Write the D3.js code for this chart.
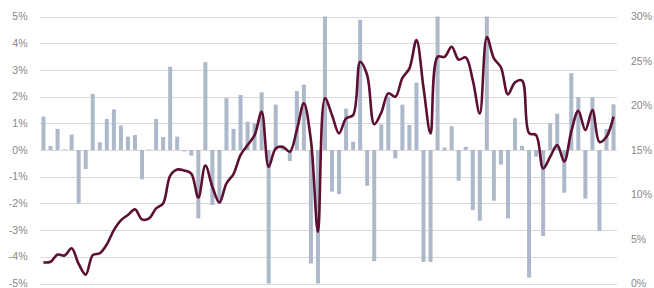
<!DOCTYPE html>
<html><head><meta charset="utf-8">
<script src="https://cdn.jsdelivr.net/npm/d3@7"></script>
<style>body{margin:0;background:#fff;}svg{display:block;}</style>
</head><body>
<svg id="c" width="654" height="288"></svg>
<script>
const periods = d3.range(1, 83);
const barValues = [1.25,0.15,0.79,0.02,0.58,-2.0,-0.71,2.1,0.29,1.16,1.52,0.92,0.5,0.56,-1.1,0.02,1.16,0.49,3.12,0.5,-0.05,-0.21,-2.56,3.29,-2.06,-2.0,1.94,0.79,2.06,1.06,1.0,2.16,-5.3,1.7,0.1,-0.41,2.21,2.45,-4.25,-5.3,5.3,-1.56,-1.65,1.55,0.31,4.88,-1.34,-4.16,0.96,2.0,-0.31,1.7,0.94,2.52,-4.19,-4.19,5.3,0.09,0.89,-1.15,0.12,-2.25,-2.65,5.3,-1.9,-0.55,-2.56,1.19,0.16,-4.78,-0.25,-3.22,1.0,1.36,-1.6,2.88,1.98,-1.82,1.98,-3.04,0.79,1.71];
const lineValues = [2.37,2.44,3.25,3.15,3.95,2.2,1.0,3.19,3.4,4.4,6.0,7.1,7.7,8.33,7.2,7.31,8.44,9.0,12.1,12.8,12.7,12.35,9.65,13.25,10.87,9.1,11.25,12.3,14.43,15.55,16.67,19.3,13.1,15.18,15.36,14.8,17.24,20.24,16.1,5.81,20.8,18.92,16.87,18.55,18.92,24.9,23.4,17.9,19.2,21.36,20.98,23.1,24.17,27.35,22.0,16.87,25.47,25.47,26.6,25.15,25.4,22.85,19.1,27.7,25.3,24.3,21.25,22.6,22.8,16.9,16.67,12.93,14.24,15.55,13.7,17.1,19.4,17.24,19.5,15.9,16.5,18.75];
const leftTicks = [-5,-4,-3,-2,-1,0,1,2,3,4,5];
const rightTicks = [0,5,10,15,20,25,30];

const svg = d3.select("#c");
const L = 40, R = 617, T = 16.5, B = 283.5;
const x = d3.scaleBand().domain(periods).range([L, R]).paddingInner(0.43).paddingOuter(0.21);
const yL = d3.scaleLinear().domain([-5, 5]).range([B, T]);
const yR = d3.scaleLinear().domain([0, 30]).range([B, T]);

svg.append("defs").append("clipPath").attr("id","clip")
  .append("rect").attr("x", L).attr("y", T).attr("width", R - L).attr("height", B - T);

// gridlines
svg.append("g").selectAll("line").data(leftTicks).join("line")
  .attr("x1", L).attr("x2", R)
  .attr("y1", d => Math.round(yL(d)) + 0.5).attr("y2", d => Math.round(yL(d)) + 0.5)
  .attr("stroke", "#d9d9d9").attr("stroke-width", 1);

// bars
svg.append("g").attr("clip-path","url(#clip)").selectAll("rect").data(barValues).join("rect")
  .attr("x", (d, i) => x(periods[i]))
  .attr("width", x.bandwidth())
  .attr("y", d => yL(Math.max(0, d)))
  .attr("height", d => Math.abs(yL(d) - yL(0)))
  .attr("fill", "#adb9ca");

// line
const line = d3.line()
  .x((d, i) => x(periods[i]) + x.bandwidth() / 2)
  .y(d => yR(d))
  .curve(d3.curveCatmullRom.alpha(0.5));
svg.append("path").datum(lineValues)
  .attr("d", line).attr("fill", "none")
  .attr("stroke", "#5c0f31").attr("stroke-width", 2.6)
  .attr("stroke-linejoin","round");

// left axis labels
const axL = d3.axisLeft(yL).tickValues(leftTicks).tickSize(0).tickPadding(0)
  .tickFormat(d => d + "%");
const gL = svg.append("g").attr("transform", "translate(27.5,0)").call(axL);
gL.select(".domain").remove();
gL.selectAll("text").attr("fill", "#888888").attr("dy", "0.3em").style("font-family", "'Liberation Sans', Arial, sans-serif").style("font-size", "10.5px");

// right axis labels
const axR = d3.axisRight(yR).tickValues(rightTicks).tickSize(0).tickPadding(0)
  .tickFormat(d => d + "%");
const gR = svg.append("g").attr("transform", "translate(631,0)").call(axR);
gR.select(".domain").remove();
gR.selectAll("text").attr("fill", "#888888").attr("dy", "0.3em").style("font-family", "'Liberation Sans', Arial, sans-serif").style("font-size", "10.5px");
</script>
</body></html>
